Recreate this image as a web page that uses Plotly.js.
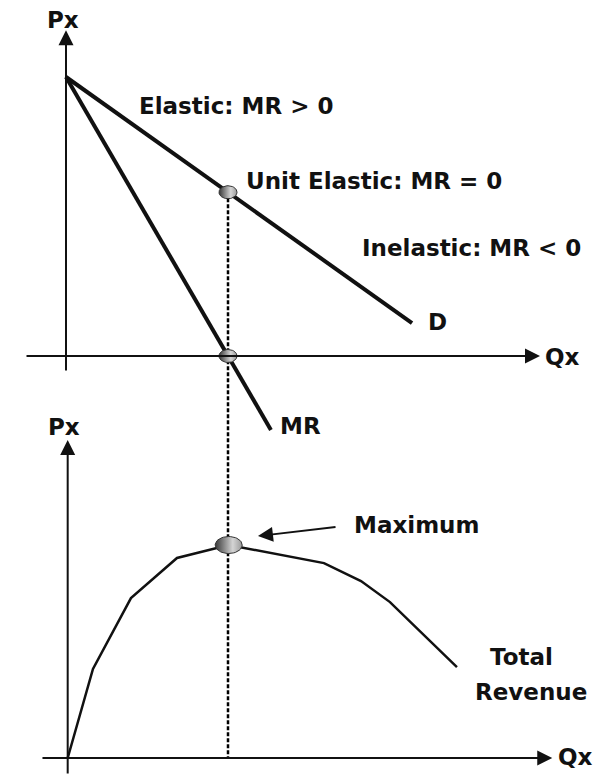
<!DOCTYPE html>
<html>
<head>
<meta charset="utf-8">
<script src="https://cdn.plot.ly/plotly-3.0.1.min.js"></script>
<style>html,body{margin:0;padding:0;background:#fff;}#chart{width:602px;height:776px;}</style>
</head>
<body>
<div id="chart"></div>
<script>
// ---- Top panel: demand (D) and marginal revenue (MR), Qx vs Px ----
const demandQ = [0, 21.36];
const demandP = [10, 1.18];
const mrQ = [0, 12.65];
const mrP = [10, -2.65];
const unitElasticQ = 10;      // where MR = 0
const unitElasticP = 5.87;    // price on D at that quantity

// ---- Bottom panel: total revenue curve, Qx vs TR ----
const trQ = [0, 1.57, 3.93, 6.79, 10, 15.92, 18.22, 20.02, 24.18];
const trV = [0, 4.18, 7.51, 9.39, 10, 9.15, 8.31, 7.32, 4.27];
const trMaxQ = 10;
const trMaxV = 10;

// labels
const labels = {
  px: "Px", qx: "Qx", d: "D", mr: "MR",
  elastic: "Elastic: MR > 0",
  unit: "Unit Elastic: MR = 0",
  inelastic: "Inelastic: MR < 0",
  maximum: "Maximum",
  total: "Total",
  revenue: "Revenue"
};

const W = 602, H = 776;
const FONT = "DejaVu Sans";
const ink = "#111111";

// axis ranges (chosen so that both panels fit the page)
const xTop = [-4.074, 33.086], yTop = [-15.054, 12.760];
const xBot = [-4.205, 33.19],  yBot = [-0.845, 35.59];

// ellipse outline for a marker blob around a centre
function blob(cx, cy, rx, ry) {
  const xs = [], ys = [];
  for (let i = 0; i <= 48; i++) {
    const t = 2 * Math.PI * i / 48;
    xs.push(cx + rx * Math.cos(t));
    ys.push(cy + ry * Math.sin(t));
  }
  return {xs, ys};
}
// pixel radii converted to each panel's units
const sxTop = W / (xTop[1] - xTop[0]), syTop = H / (yTop[1] - yTop[0]);
const sxBot = W / (xBot[1] - xBot[0]), syBot = H / (yBot[1] - yBot[0]);

const bU = blob(unitElasticQ, unitElasticP, 9 / sxTop, 6.5 / syTop);
const bZ = blob(unitElasticQ, 0, 9 / sxTop, 6.5 / syTop);
const bM = blob(trMaxQ, trMaxV, 13.5 / sxBot, 8.5 / syBot);

const grad = {type: "horizontal", colorscale: [[0, "#383838"], [0.65, "#d4d4d4"], [1, "#9a9a9a"]]};

// bottom of the dotted guide sits on the bottom Qx axis
const guideBottomP = yTop[0] + (yTop[1] - yTop[0]) * (H - 758) / H;

const traces = [
  {x: [unitElasticQ, unitElasticQ], y: [unitElasticP, guideBottomP], mode: "lines",
   line: {color: "#000", width: 2.5, dash: "4px,2px"}, xaxis: "x", yaxis: "y", hoverinfo: "skip"},
  {x: demandQ, y: demandP, mode: "lines", line: {color: ink, width: 4}, xaxis: "x", yaxis: "y"},
  {x: mrQ, y: mrP, mode: "lines", line: {color: ink, width: 4}, xaxis: "x", yaxis: "y"},
  {x: trQ, y: trV, mode: "lines", line: {color: ink, width: 2.5}, xaxis: "x2", yaxis: "y2"},
  {x: bU.xs, y: bU.ys, mode: "lines", fill: "toself", fillgradient: grad, line: {color: "#333", width: 1}, xaxis: "x", yaxis: "y"},
  {x: bZ.xs, y: bZ.ys, mode: "lines", fill: "toself", fillgradient: grad, line: {color: "#333", width: 1}, xaxis: "x", yaxis: "y"},
  {x: bM.xs, y: bM.ys, mode: "lines", fill: "toself", fillgradient: grad, line: {color: "#333", width: 1}, xaxis: "x2", yaxis: "y2"}
];

function arrow(xref, yref, x, y, ax, ay, opts) {
  return Object.assign({
    xref: xref, yref: yref, axref: xref, ayref: yref,
    x: x, y: y, ax: ax, ay: ay, text: "", showarrow: true,
    arrowhead: 2, arrowsize: 1.5, arrowwidth: 2, arrowcolor: ink, standoff: 0, startstandoff: 0
  }, opts || {});
}
function label(text, px, py, size) {
  return {xref: "paper", yref: "paper", x: px / W, y: 1 - py / H, text: text, showarrow: false,
          xanchor: "center", yanchor: "middle",
          font: {family: FONT, size: size || 23, color: ink, weight: "bold"}};
}

const annotations = [
  arrow("x", "y", 0, 11.68, 0, -0.57),
  arrow("x", "y", 29.26, 0, -2.53, 0),
  arrow("x2", "y2", 0, 14.93, 0, -0.80),
  arrow("x2", "y2", 30.1, 0, -1.66, 0),
  arrow("x2", "y2", 11.82, 10.42, 16.73, 10.85),
  label(labels.px, 63, 20),
  label(labels.elastic, 236, 106),
  label(labels.unit, 374, 181),
  label(labels.inelastic, 471, 248),
  label(labels.d, 437, 322),
  label(labels.qx, 562, 357),
  label(labels.mr, 300, 426),
  label(labels.px, 64, 427),
  label(labels.maximum, 416, 525),
  label(labels.total, 521, 657),
  label(labels.revenue, 531, 692),
  label(labels.qx, 575, 757)
];

const hidden = {visible: false, fixedrange: true, showgrid: false, zeroline: false};
const layout = {
  width: W, height: H,
  margin: {l: 0, r: 0, t: 0, b: 0, pad: 0},
  paper_bgcolor: "#ffffff", plot_bgcolor: "#ffffff",
  showlegend: false, hovermode: false,
  xaxis: Object.assign({range: xTop, domain: [0, 1]}, hidden),
  yaxis: Object.assign({range: yTop, domain: [0, 1]}, hidden),
  xaxis2: Object.assign({range: xBot, overlaying: "x", anchor: "y2"}, hidden),
  yaxis2: Object.assign({range: yBot, overlaying: "y", anchor: "x2"}, hidden),
  annotations: annotations
};

Plotly.newPlot("chart", traces, layout, {staticPlot: true, displayModeBar: false});
</script>
</body>
</html>
